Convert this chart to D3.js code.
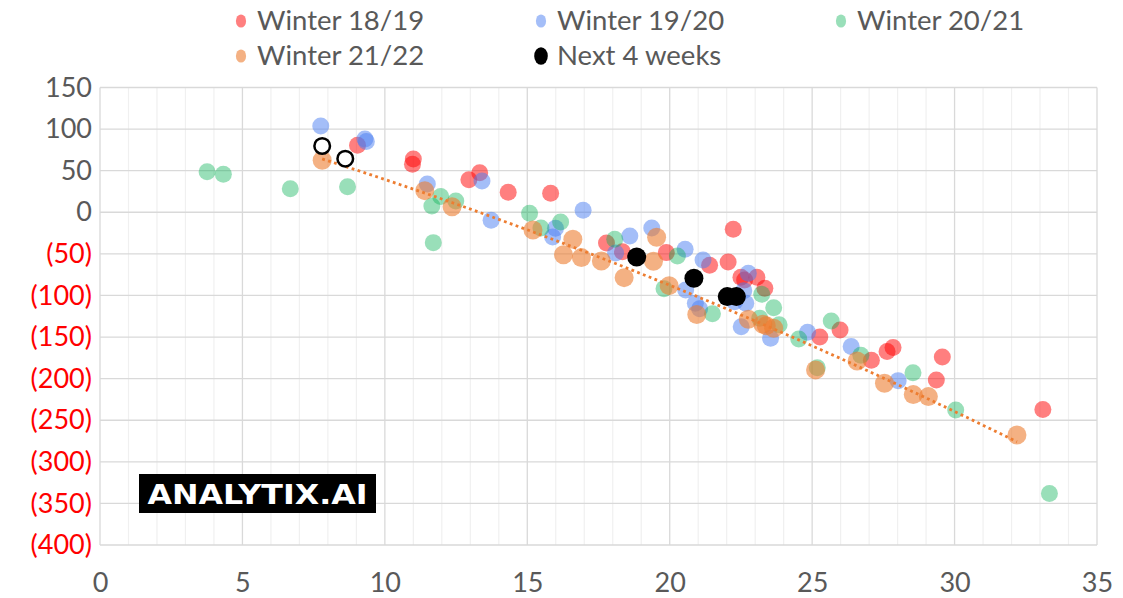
<!DOCTYPE html>
<html>
<head>
<meta charset="utf-8">
<script src="https://cdn.jsdelivr.net/npm/d3@7"></script>
<style>
  html, body { margin: 0; padding: 0; background: #fff; }
  svg { display: block; font-family: Lato, "Open Sans", sans-serif; }
</style>
</head>
<body>
<div class="chart"></div>
<script>
// values: [x, y]
const winter1819 = [[9.04,80.5],[11.0,64],[10.97,57.7],[12.95,39.2],[13.33,47.6],[14.33,24],[15.82,22.8],[17.78,-36.9],[18.34,-47.4],[19.88,-48.5],[21.4,-63.7],[22.23,-20.4],[22.05,-59.7],[22.5,-78.1],[22.63,-81.4],[23.06,-78.1],[23.34,-91.4],[25.27,-149.9],[25.98,-141.5],[27.08,-177.9],[27.63,-167.5],[27.84,-162.7],[29.57,-173.9],[29.36,-201.6],[33.1,-237.2]];
const winter1920 = [[7.75,103.7],[9.3,88],[9.35,85],[11.49,34],[13.41,37.6],[13.73,-9.6],[16.96,2.4],[15.99,-19.2],[15.89,-29.7],[18.1,-48.9],[18.6,-28.5],[19.37,-18.9],[20.54,-44.5],[20.56,-93.4],[20.9,-109.4],[21.05,-115.9],[21.17,-57.3],[22.6,-94.2],[22.67,-109.4],[22.28,-107.5],[22.76,-73.3],[22.51,-137.5],[23.54,-151.4],[24.84,-144.2],[26.37,-161.5],[28.02,-202.4]];
const winter2021 = [[3.76,48.8],[4.33,45.7],[6.68,28.4],[8.69,30.8],[11.65,7.6],[11.7,-36.5],[11.96,19],[12.49,13.6],[15.08,-1.2],[15.48,-18.9],[16.17,-11.7],[18.07,-32.5],[20.27,-52.5],[19.8,-91.8],[21.5,-122],[23.23,-98.6],[23.65,-114.7],[23.16,-127.4],[23.84,-135.1],[24.53,-152.3],[25.67,-130.6],[25.18,-186.8],[26.71,-171.9],[28.54,-192.8],[30.04,-237.6],[33.33,-338.2]];
const winter2122 = [[7.8,62.5],[11.4,26],[12.36,6.7],[15.2,-21.3],[16.6,-32.5],[16.27,-51],[16.9,-54.5],[17.6,-58.5],[18.4,-78.6],[19.54,-30],[19.43,-58.9],[19.98,-88.2],[20.95,-123],[22.76,-128.6],[23.27,-134.6],[23.39,-136.3],[23.65,-139.4],[25.12,-189.5],[26.58,-178.7],[27.54,-205.5],[28.55,-219.2],[29.08,-221.6],[32.19,-267.7]];
const next4weeks = [[18.84,-53.7],[20.85,-79.3],[22.02,-101.4],[22.34,-101.4]];
const recentWeeks = [[7.8,79.7],[8.61,64.4]];

const xTicks = [0, 5, 10, 15, 20, 25, 30, 35];
const yTicks = [150, 100, 50, 0, -50, -100, -150, -200, -250, -300, -350, -400];

const width = 1123, height = 598;
const margin = { top: 87.5, right: 26, bottom: 53, left: 100 };

const svg = d3.select('.chart').append('svg').attr('width', width).attr('height', height);

const x = d3.scaleLinear().domain([0, 35]).range([margin.left, width - margin.right]);
const y = d3.scaleLinear().domain([-400, 150]).range([height - margin.bottom, margin.top]);

// minor vertical grid (every 1)
svg.append('g').selectAll('line').data(d3.range(1, 35).filter(v => v % 5 !== 0)).join('line')
  .attr('x1', d => x(d)).attr('x2', d => x(d))
  .attr('y1', y(150)).attr('y2', y(-400))
  .attr('stroke', '#f0f0f0').attr('stroke-width', 1.2);

// major grid
svg.append('g').selectAll('line').data(xTicks).join('line')
  .attr('x1', d => x(d)).attr('x2', d => x(d))
  .attr('y1', y(150)).attr('y2', y(-400))
  .attr('stroke', '#d9d9d9').attr('stroke-width', 1.3);
svg.append('g').selectAll('line').data(yTicks).join('line')
  .attr('x1', x(0)).attr('x2', x(35))
  .attr('y1', d => y(d)).attr('y2', d => y(d))
  .attr('stroke', '#d9d9d9').attr('stroke-width', 1.3);

// axes (labels only)
const fmtY = v => v < 0 ? '(' + Math.abs(v) + ')' : String(v);
const yAxis = svg.append('g').attr('transform', `translate(${margin.left},0)`)
  .call(d3.axisLeft(y).tickValues(yTicks).tickFormat(fmtY).tickSize(0).tickPadding(8));
yAxis.select('.domain').remove();
yAxis.selectAll('text').attr('font-size', 27).attr('font-family', 'Lato')
  .attr('fill', d => d < 0 ? '#ff0000' : '#595959');

const xAxis = svg.append('g').attr('transform', `translate(0,${y(-400)})`)
  .call(d3.axisBottom(x).tickValues(xTicks).tickSize(0).tickPadding(28));
xAxis.select('.domain').remove();
xAxis.selectAll('text').attr('font-size', 27).attr('font-family', 'Lato').attr('fill', '#595959');

// series
const series = [
  { name: 'Winter 18/19', data: winter1819, color: '#ff0000', opacity: 0.5, r: 8.5 },
  { name: 'Winter 19/20', data: winter1920, color: '#497df1', opacity: 0.5, r: 8.5 },
  { name: 'Winter 20/21', data: winter2021, color: '#00b050', opacity: 0.4, r: 8.5 },
  { name: 'Winter 21/22', data: winter2122, color: '#ed7d31', opacity: 0.6, r: 9.5 }
];

series.forEach(s => {
  svg.append('g').selectAll('circle').data(s.data).join('circle')
    .attr('cx', d => x(d[0])).attr('cy', d => y(d[1]))
    .attr('r', s.r).attr('fill', s.color).attr('fill-opacity', s.opacity);
});

// polynomial (order 2) trendline fitted to Winter 21/22
function polyFit2(pts) {
  let n = pts.length, sx = 0, sx2 = 0, sx3 = 0, sx4 = 0, sy = 0, sxy = 0, sx2y = 0;
  pts.forEach(([a, b]) => {
    sx += a; sx2 += a * a; sx3 += a * a * a; sx4 += a * a * a * a;
    sy += b; sxy += a * b; sx2y += a * a * b;
  });
  const M = [[n, sx, sx2, sy], [sx, sx2, sx3, sxy], [sx2, sx3, sx4, sx2y]];
  for (let i = 0; i < 3; i++) {
    for (let k = i + 1; k < 3; k++) {
      const f = M[k][i] / M[i][i];
      for (let j = i; j < 4; j++) M[k][j] -= f * M[i][j];
    }
  }
  const c = [0, 0, 0];
  for (let i = 2; i >= 0; i--) {
    let s = M[i][3];
    for (let j = i + 1; j < 3; j++) s -= M[i][j] * c[j];
    c[i] = s / M[i][i];
  }
  return c;
}
const coef = polyFit2(winter2122);
const xs = d3.extent(winter2122, d => d[0]);
const trend = d3.range(xs[0], xs[1] + 0.001, (xs[1] - xs[0]) / 80)
  .map(v => [v, coef[0] + coef[1] * v + coef[2] * v * v]);

svg.append('path').datum(trend)
  .attr('fill', 'none').attr('stroke', '#ed7d31').attr('stroke-width', 2.8)
  .attr('stroke-dasharray', '2.8 3.4')
  .attr('d', d3.line().x(d => x(d[0])).y(d => y(d[1])));

svg.append('g').selectAll('circle').data(next4weeks).join('circle')
  .attr('cx', d => x(d[0])).attr('cy', d => y(d[1]))
  .attr('r', 9.5).attr('fill', '#000');

svg.append('g').selectAll('circle').data(recentWeeks).join('circle')
  .attr('cx', d => x(d[0])).attr('cy', d => y(d[1]))
  .attr('r', 7.8).attr('fill', '#fff').attr('stroke', '#000').attr('stroke-width', 2.5);

// legend
const legendItems = series.map(s => ({ name: s.name, color: s.color, opacity: s.opacity, r: 6 }))
  .concat([{ name: 'Next 4 weeks', color: '#000', opacity: 1, r: 8 }]);
const legend = svg.append('g');
legendItems.forEach((d, i) => {
  const lx = 241 + (i % 3) * 300, ly = 20 + Math.floor(i / 3) * 35;
  legend.append('ellipse').attr('cx', lx).attr('cy', ly + 1)
    .attr('rx', d.r * 0.85).attr('ry', d.r * 1.1)
    .attr('fill', d.color).attr('fill-opacity', d.opacity);
  legend.append('text').attr('x', lx + 16).attr('y', ly).attr('dy', '0.35em')
    .attr('font-size', 27.5).attr('fill', '#595959').text(d.name);
});

// logo
const logo = svg.append('g');
logo.append('rect').attr('x', 139).attr('y', 474).attr('width', 237).attr('height', 39).attr('fill', '#000');
logo.append('text').attr('x', 257.5).attr('y', 494).attr('dy', '0.36em')
  .attr('text-anchor', 'middle').attr('font-family', 'DejaVu Sans').attr('font-weight', 'bold')
  .attr('font-size', 27).attr('fill', '#fff')
  .attr('textLength', 220).attr('lengthAdjust', 'spacingAndGlyphs')
  .text('ANALYTIX.AI');
</script>
</body>
</html>
